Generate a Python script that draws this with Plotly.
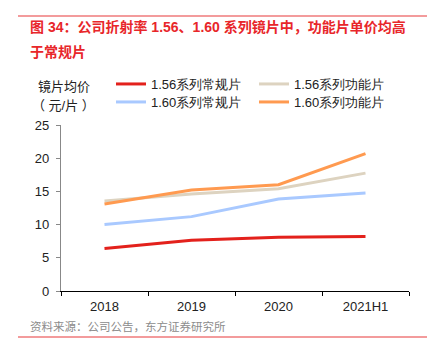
import plotly.graph_objects as go

# Average lens price (yuan per piece) by year, refractive index 1.56 / 1.60
years = ["2018", "2019", "2020", "2021H1"]
std_156 = [6.4, 7.65, 8.1, 8.2]
func_156 = [13.55, 14.6, 15.4, 17.75]
std_160 = [10.0, 11.2, 13.85, 14.75]
func_160 = [13.1, 15.2, 16.0, 20.7]

series_names = ["1.56系列常规片", "1.56系列功能片", "1.60系列常规片", "1.60系列功能片"]
series_values = [std_156, func_156, std_160, func_160]
series_colors = ["#E3211C", "#DDD3C0", "#A9C9FF", "#FF9A50"]
series_legend = ["legend", "legend", "legend2", "legend2"]

y_ticks = [0, 5, 10, 15, 20, 25]

FONT = "Liberation Sans, Noto Sans CJK SC, sans-serif"
W, H = 427, 349
L, R, T, B = 61, 18, 125, 58
PW, PH = W - L - R, H - T - B


def px_x(x):
    return (x - L) / PW


def px_y(y):
    return (H - B - y) / PH


fig = go.Figure()
# draw order keeps orange above beige, red on bottom
for idx in [0, 2, 1, 3]:
    fig.add_trace(go.Scatter(
        x=years, y=series_values[idx], name=series_names[idx],
        mode="lines", line=dict(color=series_colors[idx], width=3),
        legend=series_legend[idx], legendrank=idx + 1,
    ))

legend_common = dict(
    orientation="h", xref="container", yref="container",
    xanchor="left", yanchor="middle", traceorder="normal",
    entrywidth=98, entrywidthmode="pixels", itemwidth=30,
    font=dict(family="Arial", size=13, color="#222222"),
    bgcolor="rgba(0,0,0,0)", borderwidth=0,
)

fig.update_layout(
    width=W, height=H,
    margin=dict(l=L, r=R, t=T, b=B, autoexpand=False),
    paper_bgcolor="white", plot_bgcolor="white",
    font=dict(family=FONT, size=13, color="#222222"),
    showlegend=True,
    legend=dict(legend_common, x=111 / W, y=1 - 84 / H),
    legend2=dict(legend_common, x=111 / W, y=1 - 102 / H),
    xaxis=dict(
        type="category", range=[-0.5, 3.5],
        showline=True, linecolor="#000000", linewidth=1.3,
        ticks="outside", tickson="boundaries", ticklen=4, tickcolor="#000000",
        showgrid=False, zeroline=False, ticklabelstandoff=3,
        tickfont=dict(size=13, color="#222222"),
    ),
    yaxis=dict(
        range=[0, 25], tickvals=y_ticks,
        showline=True, linecolor="#888888", linewidth=1.3,
        ticks="outside", ticklen=4, tickcolor="#888888",
        showgrid=False, zeroline=False, ticklabelstandoff=4,
        tickfont=dict(size=13, color="#222222"),
    ),
)

# red rules framing the figure
for y in (16, 337):
    fig.add_shape(type="line", xref="paper", yref="paper",
                  x0=px_x(18), x1=px_x(W), y0=px_y(y), y1=px_y(y),
                  line=dict(color="#E8393B", width=1.2))

# title block
title_lines = ["图 34：公司折射率 1.56、1.60 系列镜片中，功能片单价均高", "于常规片"]
for line, yc in zip(title_lines, (27, 52)):
    fig.add_annotation(
        text=f"<b>{line}</b>", xref="paper", yref="paper",
        x=px_x(28), y=px_y(yc), xanchor="left", yanchor="middle",
        showarrow=False, font=dict(family=FONT, size=14, color="#E8262A"),
    )

# y-axis unit label
for line, yc in zip(["镜片均价", "（ 元/片 ）"], (86, 105)):
    fig.add_annotation(
        text=line, xref="paper", yref="paper",
        x=px_x(63.5), y=px_y(yc), xanchor="center", yanchor="middle",
        showarrow=False, font=dict(family=FONT, size=13, color="#222222"),
    )

# source note
fig.add_annotation(
    text="资料来源：公司公告，东方证券研究所", xref="paper", yref="paper",
    x=px_x(28), y=px_y(326), xanchor="left", yanchor="middle", showarrow=False,
    font=dict(family=FONT, size=11.5, color="#8C8C8C"),
)

fig.write_html("out.html")
